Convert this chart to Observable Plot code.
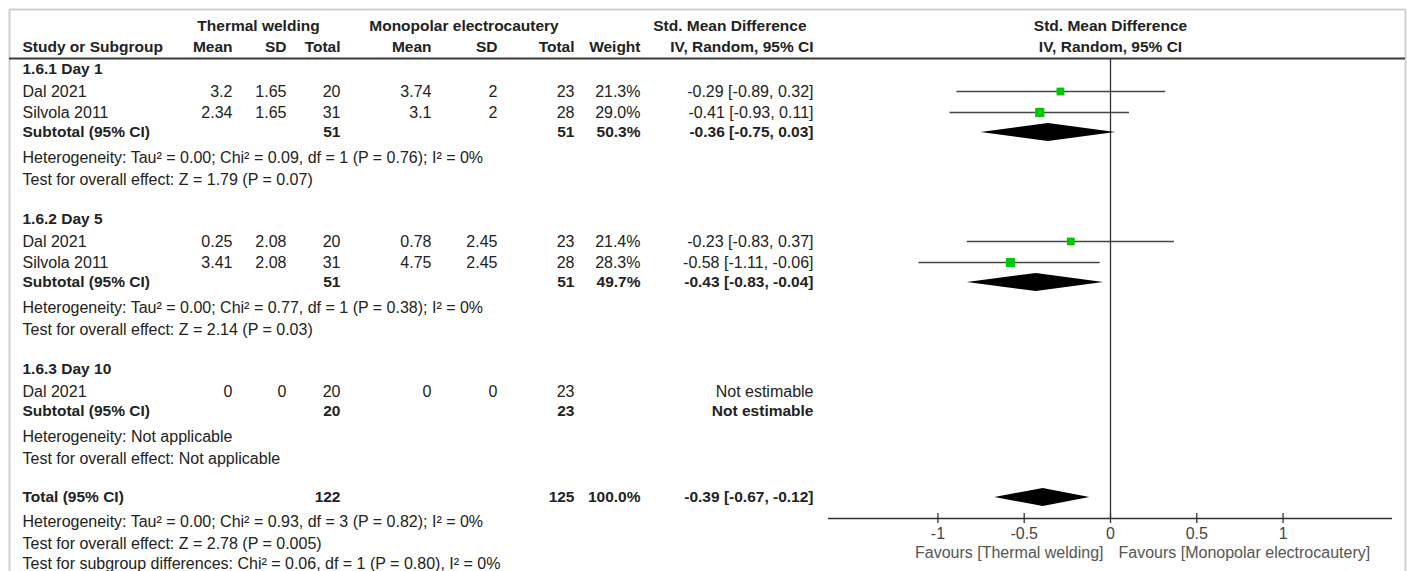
<!DOCTYPE html>
<html><head><meta charset="utf-8">
<script src="https://cdn.jsdelivr.net/npm/d3@7"></script>
<script src="https://cdn.jsdelivr.net/npm/@observablehq/plot@0.6"></script>
<style>
html,body{margin:0;padding:0;background:#fff;overflow:hidden}
#chart{position:relative;width:1407px;height:571px}
#chart svg{position:absolute;left:0;top:0}
</style></head><body><div id="chart"></div>
<script>
// ---------------- DATA ----------------
const groupLabels = ["1.6.1 Day 1", "1.6.2 Day 5", "1.6.3 Day 10"];
const studyGroup  = [0, 0, 1, 1, 2];
const studyNames  = ["Dal 2021", "Silvola 2011", "Dal 2021", "Silvola 2011", "Dal 2021"];
const twMean  = ["3.2", "2.34", "0.25", "3.41", "0"];
const twSD    = ["1.65", "1.65", "2.08", "2.08", "0"];
const twTotal = [20, 31, 20, 31, 20];
const mpMean  = ["3.74", "3.1", "0.78", "4.75", "0"];
const mpSD    = ["2", "2", "2.45", "2.45", "0"];
const mpTotal = [23, 28, 23, 28, 23];
const weights = [21.3, 29.0, 21.4, 28.3, null];
const smd     = [-0.29, -0.41, -0.23, -0.58, null];
const ciLow   = [-0.89, -0.93, -0.83, -1.11, null];
const ciHigh  = [0.32, 0.11, 0.37, -0.06, null];

const subTwTotal = [51, 51, 20];
const subMpTotal = [51, 51, 23];
const subWeight  = [50.3, 49.7, null];
const subSmd     = [-0.36, -0.43, null];
const subLow     = [-0.75, -0.83, null];
const subHigh    = [0.03, -0.04, null];
const subHetero  = [
  "Heterogeneity: Tau\u00b2 = 0.00; Chi\u00b2 = 0.09, df = 1 (P = 0.76); I\u00b2 = 0%",
  "Heterogeneity: Tau\u00b2 = 0.00; Chi\u00b2 = 0.77, df = 1 (P = 0.38); I\u00b2 = 0%",
  "Heterogeneity: Not applicable"
];
const subTest = [
  "Test for overall effect: Z = 1.79 (P = 0.07)",
  "Test for overall effect: Z = 2.14 (P = 0.03)",
  "Test for overall effect: Not applicable"
];
const totalTw = 122, totalMp = 125, totalWeight = 100.0;
const totalSmd = -0.39, totalLow = -0.67, totalHigh = -0.12;
const totalNotes = [
  "Heterogeneity: Tau\u00b2 = 0.00; Chi\u00b2 = 0.93, df = 3 (P = 0.82); I\u00b2 = 0%",
  "Test for overall effect: Z = 2.78 (P = 0.005)",
  "Test for subgroup differences: Chi\u00b2 = 0.06, df = 1 (P = 0.80), I\u00b2 = 0%"
];
const headerGroups = ["Thermal welding", "Monopolar electrocautery", "Std. Mean Difference"];
const headerCols = ["Study or Subgroup", "Mean", "SD", "Total", "Mean", "SD", "Total", "Weight", "IV, Random, 95% CI"];
const panelHeader = ["Std. Mean Difference", "IV, Random, 95% CI"];
const axisTicks = [-1, -0.5, 0, 0.5, 1];
const favours = ["Favours [Thermal welding]", "Favours [Monopolar electrocautery]"];

// ---------------- LAYOUT / STYLE ----------------
const W = 1407, H = 571;
const FONT = "Liberation Sans, Arial, Helvetica, sans-serif";
const FS = 16, FSB = 15.5;
const INK = "#222";
const COLX = {study: 22, twMean: 232, twSD: 286, twTotal: 340, mpMean: 431, mpSD: 497, mpTotal: 574, weight: 640, ci: 813};
const L = {head1: 26, head2: 47, headerLine: 58, first: 69, axis: 518, tickLabel: 533, favours: 552,
  hdrToStudy: 22, study: 21, toSub: 20, subToHet: 25, hetToTest: 22, testToGroup: 40, testToTotal: 39, totalToHet: 24, noteStep: 21};
const X_DOMAIN = [-1.634, 1.634];
const SQ = "#00c800";
const DIAMOND_H = 9;

const f2 = v => v.toFixed(2);
const ciText = (e, lo, hi) => e == null ? "Not estimable" : `${f2(e)} [${f2(lo)}, ${f2(hi)}]`;
const wText = w => w == null ? "" : w.toFixed(1) + "%";

// ---------------- BUILD ROWS ----------------
const cells = [];   // {x, y, text, anchor, bold}
const points = [];  // study markers
const diamonds = [];
const cell = (x, y, text, anchor, bold) => cells.push({x, y, text: String(text), anchor, bold});

// headers
cell((195 + 321) / 2, L.head1, headerGroups[0], "middle", true);
cell((370 + 557) / 2, L.head1, headerGroups[1], "middle", true);
cell(806, L.head1, headerGroups[2], "end", true);
const hx = [COLX.study, COLX.twMean, COLX.twSD, COLX.twTotal, COLX.mpMean, COLX.mpSD, COLX.mpTotal, COLX.weight, COLX.ci];
headerCols.forEach((t, i) => cell(hx[i], L.head2, t, i === 0 ? "start" : "end", true));

let y = L.first;
groupLabels.forEach((g, gi) => {
  cell(COLX.study, y, g, "start", true);
  y += L.hdrToStudy;
  const idx = studyGroup.map((sg, i) => sg === gi ? i : -1).filter(i => i >= 0);
  idx.forEach((i, k) => {
    if (k > 0) y += L.study;
    cell(COLX.study, y, studyNames[i], "start", false);
    cell(COLX.twMean, y, twMean[i], "end", false);
    cell(COLX.twSD, y, twSD[i], "end", false);
    cell(COLX.twTotal, y, twTotal[i], "end", false);
    cell(COLX.mpMean, y, mpMean[i], "end", false);
    cell(COLX.mpSD, y, mpSD[i], "end", false);
    cell(COLX.mpTotal, y, mpTotal[i], "end", false);
    cell(COLX.weight, y, wText(weights[i]), "end", false);
    cell(COLX.ci, y, ciText(smd[i], ciLow[i], ciHigh[i]), "end", false);
    if (smd[i] != null) points.push({y, est: smd[i], lo: ciLow[i], hi: ciHigh[i], w: weights[i]});
  });
  y += L.toSub;
  cell(COLX.study, y, "Subtotal (95% CI)", "start", true);
  cell(COLX.twTotal, y, subTwTotal[gi], "end", true);
  cell(COLX.mpTotal, y, subMpTotal[gi], "end", true);
  cell(COLX.weight, y, wText(subWeight[gi]), "end", true);
  cell(COLX.ci, y, ciText(subSmd[gi], subLow[gi], subHigh[gi]), "end", true);
  if (subSmd[gi] != null) diamonds.push({id: "g" + gi, y, est: subSmd[gi], lo: subLow[gi], hi: subHigh[gi]});
  y += L.subToHet;
  cell(COLX.study, y, subHetero[gi], "start", false);
  y += L.hetToTest;
  cell(COLX.study, y, subTest[gi], "start", false);
  y += gi < groupLabels.length - 1 ? L.testToGroup : L.testToTotal;
});
cell(COLX.study, y, "Total (95% CI)", "start", true);
cell(COLX.twTotal, y, totalTw, "end", true);
cell(COLX.mpTotal, y, totalMp, "end", true);
cell(COLX.weight, y, wText(totalWeight), "end", true);
cell(COLX.ci, y, ciText(totalSmd, totalLow, totalHigh), "end", true);
diamonds.push({id: "total", y, est: totalSmd, lo: totalLow, hi: totalHigh});
y += L.totalToHet;
totalNotes.forEach((t, k) => { cell(COLX.study, y, t, "start", false); y += (k === 0 ? L.hetToTest : L.noteStep - 1); });

const diamondPts = diamonds.flatMap(d => [
  {id: d.id, x: d.lo, y1: d.y, y2: d.y},
  {id: d.id, x: d.est, y1: d.y - DIAMOND_H, y2: d.y + DIAMOND_H},
  {id: d.id, x: d.hi, y1: d.y, y2: d.y}
]);

// ---------------- TABLE LAYER ----------------
const textMarks = [];
for (const anchor of ["start", "middle", "end"]) for (const bold of [false, true]) {
  const sub = cells.filter(c => c.anchor === anchor && c.bold === bold);
  if (sub.length) textMarks.push(Plot.text(sub, {x: "x", y: "y", text: "text", textAnchor: anchor,
    fontWeight: bold ? "bold" : "normal", fontFamily: FONT, fontSize: bold ? FSB : FS, fill: INK}));
}
const table = Plot.plot({
  width: W, height: H, margin: 0,
  x: {type: "identity", axis: null}, y: {type: "identity", axis: null},
  style: {background: "#fff"},
  marks: [
    Plot.ruleY([9], {x1: 9, x2: 1405, stroke: "#cfcfcf", strokeWidth: 2}),
    Plot.ruleX([9], {y1: 9, y2: H, stroke: "#cfcfcf", strokeWidth: 2}),
    Plot.ruleX([1405], {y1: 9, y2: H, stroke: "#cfcfcf", strokeWidth: 2}),
    Plot.ruleY([L.headerLine], {x1: 9, x2: 1405, stroke: "#3a3a3a", strokeWidth: 2}),
    ...textMarks
  ]
});

// ---------------- FOREST LAYER ----------------
const forest = Plot.plot({
  width: W, height: H, marginLeft: 828, marginRight: 15, marginTop: 0, marginBottom: 0,
  x: {domain: X_DOMAIN, axis: null},
  y: {type: "identity", axis: null},
  r: {type: "sqrt", domain: [0, 21.3], range: [0, 4.4]},
  style: {background: "transparent"},
  marks: [
    Plot.ruleX([0], {y1: L.headerLine, y2: L.axis, stroke: "#333", strokeWidth: 1.3}),
    Plot.ruleY(points, {y: "y", x1: "lo", x2: "hi", stroke: "#444", strokeWidth: 1.5}),
    Plot.dot(points, {x: "est", y: "y", r: "w", symbol: "square", fill: SQ, stroke: "none"}),
    Plot.areaY(diamondPts, {x: "x", y1: "y1", y2: "y2", z: "id", fill: "#000"}),
    Plot.ruleY([L.axis], {x1: X_DOMAIN[0], x2: X_DOMAIN[1], stroke: "#333", strokeWidth: 1.3}),
    Plot.ruleX(axisTicks, {x: d => d, y1: L.axis - 5, y2: L.axis + 5, stroke: "#333", strokeWidth: 1.3}),
    Plot.text(axisTicks, {x: d => d, y: L.tickLabel, text: d => String(d), fontFamily: FONT, fontSize: FS, fill: "#444"}),
    Plot.text([favours[0]], {x: () => 0, y: L.favours, text: d => d, textAnchor: "end", dx: -7, fontFamily: FONT, fontSize: FS, fill: "#555"}),
    Plot.text([favours[1]], {x: () => 0, y: L.favours, text: d => d, textAnchor: "start", dx: 8, fontFamily: FONT, fontSize: FS, fill: "#555"}),
    Plot.text([panelHeader[0]], {x: () => 0, y: L.head1, text: d => d, fontWeight: "bold", fontFamily: FONT, fontSize: FSB, fill: INK}),
    Plot.text([panelHeader[1]], {x: () => 0, y: L.head2, text: d => d, fontWeight: "bold", fontFamily: FONT, fontSize: FSB, fill: INK})
  ]
});

const root = document.getElementById("chart");
root.appendChild(table);
root.appendChild(forest);
</script></body></html>
